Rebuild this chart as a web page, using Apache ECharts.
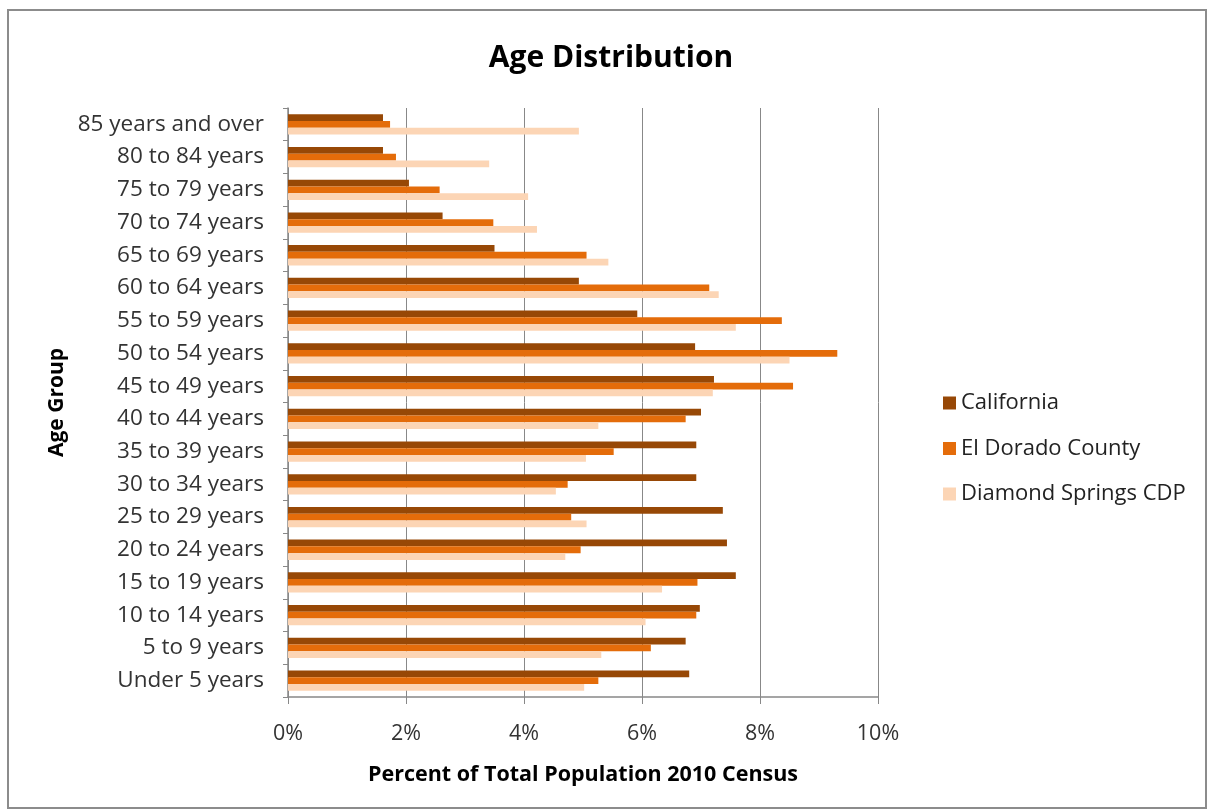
<!DOCTYPE html>
<html>
<head>
<meta charset="utf-8">
<script src="https://cdn.jsdelivr.net/npm/echarts@6/dist/echarts.min.js"></script>
<style>
html,body{margin:0;padding:0;background:#fff;}
#chart{width:1208px;height:810px;}
</style>
</head>
<body>
<div id="chart"></div>
<script>
const categories = ['Under 5 years','5 to 9 years','10 to 14 years','15 to 19 years','20 to 24 years','25 to 29 years','30 to 34 years','35 to 39 years','40 to 44 years','45 to 49 years','50 to 54 years','55 to 59 years','60 to 64 years','65 to 69 years','70 to 74 years','75 to 79 years','80 to 84 years','85 years and over'];
const california = [6.80,6.74,6.98,7.59,7.44,7.37,6.92,6.92,7.00,7.22,6.90,5.92,4.93,3.50,2.62,2.05,1.61,1.61];
const elDorado = [5.26,6.15,6.92,6.94,4.96,4.80,4.74,5.52,6.74,8.56,9.31,8.37,7.14,5.06,3.48,2.57,1.83,1.73];
const diamondSprings = [5.02,5.31,6.06,6.34,4.70,5.06,4.54,5.05,5.26,7.20,8.50,7.59,7.30,5.43,4.22,4.07,3.41,4.93];
const xTicks = [0,2,4,6,8,10];

const font = '"Open Sans", sans-serif';
const chart = echarts.init(document.getElementById('chart'));
chart.setOption({
  animation:false,
  backgroundColor:'#fff',
  graphic:[{type:'rect',shape:{x:8,y:10,width:1198,height:798},style:{fill:'none',stroke:'#8c8c8c',lineWidth:2},silent:true}],
  title:{text:'Age Distribution',left:606,top:38,textAlign:'center',textStyle:{fontFamily:font,fontSize:30,fontWeight:'bold',color:'#000'}},
  legend:{orient:'vertical',left:938,top:387,itemWidth:13,itemHeight:13,itemGap:23.5,icon:'rect',
    textStyle:{fontFamily:font,fontSize:22,color:'#222'},
    data:['California','El Dorado County','Diamond Springs CDP']},
  grid:{left:288,right:330,top:108,bottom:113,containLabel:false},
  xAxis:{type:'value',min:xTicks[0],max:xTicks[xTicks.length-1],interval:2,
    name:'Percent of Total Population 2010 Census',nameLocation:'middle',nameGap:67,
    nameTextStyle:{fontFamily:font,fontSize:21.5,fontWeight:'bold',color:'#000'},
    axisLine:{show:true,lineStyle:{color:'#888',width:1.5}},
    axisTick:{show:true,length:7,lineStyle:{color:'#888'}},
    axisLabel:{fontFamily:font,fontSize:21.5,color:'#333',margin:26,formatter:v=>v+'%'},
    splitLine:{show:true,lineStyle:{color:'#888',width:1}}},
  yAxis:{type:'category',data:categories,
    name:'Age Group',nameLocation:'middle',nameGap:220,nameRotate:90,
    nameTextStyle:{fontFamily:font,fontSize:21,fontWeight:'bold',color:'#000'},
    axisLine:{show:true,lineStyle:{color:'#888',width:1.5}},
    axisTick:{show:true,length:5,lineStyle:{color:'#888'}},
    axisLabel:{fontFamily:font,fontSize:22.5,color:'#333',margin:24}},
  series:[
    {name:'California',type:'bar',data:california,itemStyle:{color:'#974806'},barGap:'0%',barCategoryGap:'38%'},
    {name:'El Dorado County',type:'bar',data:elDorado,itemStyle:{color:'#E46C0A'}},
    {name:'Diamond Springs CDP',type:'bar',data:diamondSprings,itemStyle:{color:'#FCD5B5'}}
  ]
});
</script>
</body>
</html>
